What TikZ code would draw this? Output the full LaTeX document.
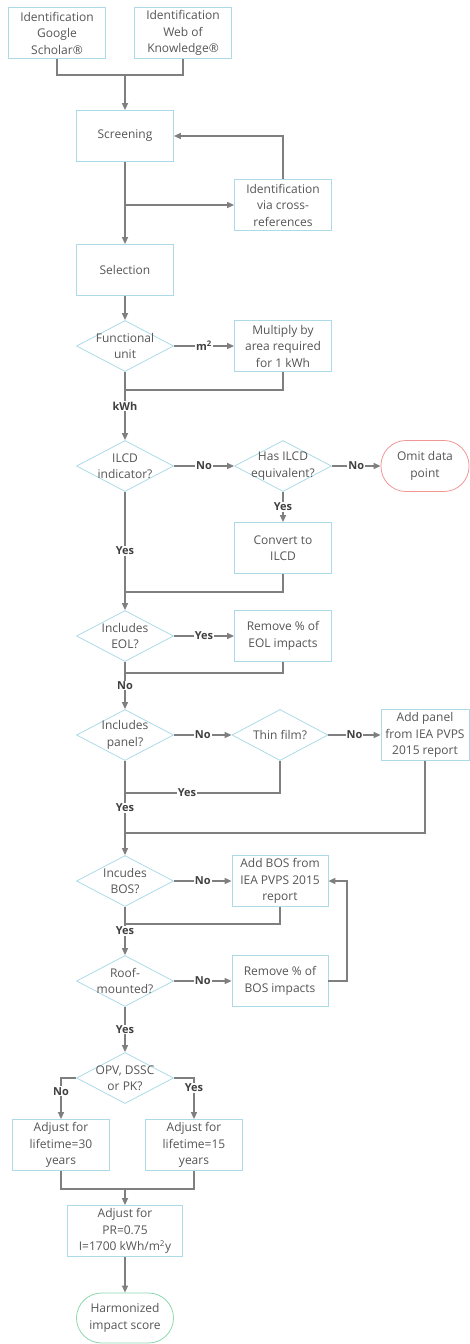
\documentclass[tikz,border=0pt]{standalone}
\usepackage{fontspec}
\setmainfont{Open Sans}
\usetikzlibrary{shapes.geometric, arrows.meta}
\definecolor{boxblue}{RGB}{172,218,232}
\definecolor{omitred}{RGB}{242,150,150}
\definecolor{endgreen}{RGB}{140,215,175}
\definecolor{linegray}{RGB}{127,127,127}
\definecolor{txtgray}{RGB}{85,85,85}

\begin{document}
\begin{tikzpicture}[x=1pt, y=-1pt,
  every node/.style={font=\fontsize{12}{16.5}\selectfont, text=txtgray, align=center},
  box/.style={draw=boxblue, line width=0.8pt, minimum width=97pt, minimum height=51pt, inner sep=1pt},
  decision/.style={draw=boxblue, line width=0.8pt, diamond, minimum width=97pt, minimum height=51pt, inner sep=0pt},
  dectext/.style={font=\fontsize{12}{16.5}\selectfont, text=txtgray, align=center, inner sep=0pt},
  term/.style={line width=0.8pt, rounded corners=25pt, minimum height=51pt, inner sep=1pt},
  conn/.style={draw=linegray, line width=1.3pt},
  arr/.style={conn, -{Triangle[length=7pt, width=6pt]}},
  lbl/.style={font=\fontsize{11}{13}\selectfont\bfseries, text=black!75, fill=white, inner sep=1pt}]
  \useasboundingbox (0,0) rectangle (470,1344);
  \node[box] (gs) at (57,33) {Identification\\Google\\Scholar®};
  \node[box] (wok) at (183,33) {Identification\\Web of\\Knowledge®};
  \node[box] (screen) at (125,136) {Screening};
  \node[box] (xref) at (283,205) {Identification\\via cross-\\references};
  \node[box] (select) at (125,270) {Selection};
  \node[decision, label={[dectext]center:Functional\\unit}] (func) at (125,346) {};
  \node[box] (mult) at (283,346) {Multiply by\\area required\\for 1 kWh};
  \node[decision, label={[dectext]center:ILCD\\indicator?}] (ilcd) at (125,466) {};
  \node[decision, label={[dectext]center:Has ILCD\\equivalent?}] (haseq) at (283,466) {};
  \node[term, draw=omitred, minimum width=88pt] (omit) at (425,466) {Omit data\\point};
  \node[box] (convert) at (283,548) {Convert to\\ILCD};
  \node[decision, label={[dectext]center:Includes\\EOL?}] (eol) at (125,636) {};
  \node[box] (remeol) at (283,636) {Remove \% of\\EOL impacts};
  \node[decision, label={[dectext]center:Includes\\panel?}] (panel) at (125,735) {};
  \node[decision, minimum width=96pt, label={[dectext]center:Thin film?}] (thin) at (280,735) {};
  \node[box, minimum width=88pt] (addpanel) at (425,735) {Add panel\\from IEA PVPS\\2015 report};
  \node[decision, label={[dectext]center:Incudes\\BOS?}] (bos) at (125,881) {};
  \node[box, minimum width=96pt] (addbos) at (280,881) {Add BOS from\\IEA PVPS 2015\\report};
  \node[decision, label={[dectext]center:Roof-\\mounted?}] (roof) at (125,981) {};
  \node[box, minimum width=96pt] (rembos) at (280,981) {Remove \% of\\BOS impacts};
  \node[decision, label={[dectext]center:OPV, DSSC\\or PK?}] (opv) at (125,1078) {};
  \node[box] (life30) at (61,1145) {Adjust for\\lifetime=30\\years};
  \node[box] (life15) at (194,1145) {Adjust for\\lifetime=15\\years};
  \node[box, minimum width=115pt] (pr) at (125,1231) {Adjust for\\PR=0.75\\I=1700 kWh/m\textsuperscript{2}y};
  \node[term, draw=endgreen, minimum width=97pt, minimum height=50pt] (harm) at (125,1318) {Harmonized\\impact score};

  \coordinate (srcjoin) at (125,75);
  \coordinate (kwhjoin) at (125,390);
  \coordinate (ilcdjoin) at (125,592);
  \coordinate (eoljoin) at (125,673);
  \coordinate (thinjoin) at (125,793);
  \coordinate (paneljoin) at (125,833);
  \coordinate (bosjoin) at (125,924);
  \coordinate (bosloop) at (347,981);
  \coordinate (lifejoin) at (125,1189);

  \draw[conn] (gs.south) |- (srcjoin);
  \draw[conn] (wok.south) |- (srcjoin);
  \draw[arr] (srcjoin) -- (screen.north);
  \draw[arr] (screen.south) -- (select.north);
  \draw[arr] (screen.south |- xref.west) -- (xref.west);
  \draw[arr] (xref.north) |- (screen.east);
  \draw[arr] (select.south) -- (func.north);
  \draw[arr] (func.east) -- node[lbl]{m\textsuperscript{2}} (mult.west);
  \draw[conn] (mult.south) |- (kwhjoin);
  \draw[arr] (func.south) -- node[lbl]{kWh} (ilcd.north);
  \draw[arr] (ilcd.east) -- node[lbl]{No} (haseq.west);
  \draw[arr] (haseq.east) -- node[lbl]{No} (omit.west);
  \draw[arr] (haseq.south) -- node[lbl]{Yes} (convert.north);
  \draw[conn] (convert.south) |- (ilcdjoin);
  \draw[arr] (ilcd.south) -- node[lbl]{Yes} (eol.north);
  \draw[arr] (eol.east) -- node[lbl]{Yes} (remeol.west);
  \draw[conn] (remeol.south) |- (eoljoin);
  \draw[arr] (eol.south) -- node[lbl]{No} (panel.north);
  \draw[arr] (panel.east) -- node[lbl]{No} (thin.west);
  \draw[arr] (thin.east) -- node[lbl]{No} (addpanel.west);
  \draw[conn] (thin.south) |- node[lbl, pos=0.8]{Yes} (thinjoin);
  \draw[conn] (addpanel.south) |- (paneljoin);
  \draw[arr] (panel.south) -- node[lbl]{Yes} (bos.north);
  \draw[arr] (bos.east) -- node[lbl]{No} (addbos.west);
  \draw[conn] (addbos.south) |- (bosjoin);
  \draw[arr] (bos.south) -- node[lbl]{Yes} (roof.north);
  \draw[arr] (roof.east) -- node[lbl]{No} (rembos.west);
  \draw[arr] (rembos.east) -- (bosloop) |- (addbos.east);
  \draw[arr] (roof.south) -- node[lbl]{Yes} (opv.north);
  \draw[arr] (opv.west) -| node[lbl, pos=0.66]{No} (life30.north);
  \draw[arr] (opv.east) -| node[lbl, pos=0.62]{Yes} (life15.north);
  \draw[conn] (life30.south) |- (lifejoin);
  \draw[conn] (life15.south) |- (lifejoin);
  \draw[arr] (lifejoin) -- (pr.north);
  \draw[arr] (pr.south) -- (harm.north);
\end{tikzpicture}
\end{document}
